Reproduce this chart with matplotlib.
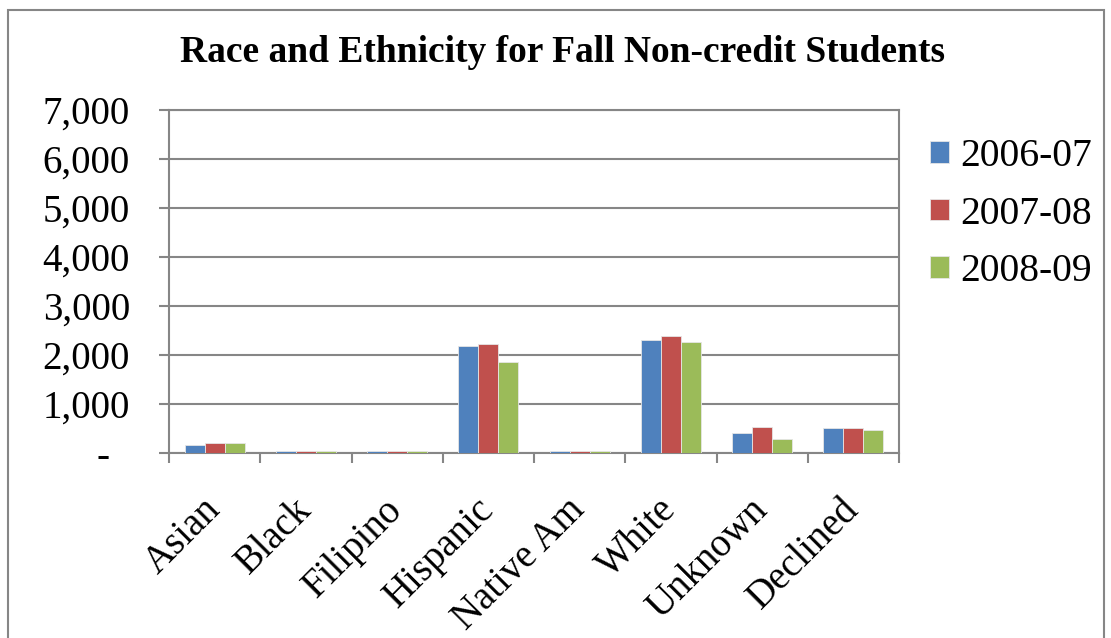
import matplotlib
matplotlib.use("Agg")
import matplotlib.pyplot as plt
import numpy as np
from matplotlib.patches import Rectangle

categories = ["Asian", "Black", "Filipino", "Hispanic", "Native Am", "White", "Unknown", "Declined"]
series_names = ["2006-07", "2007-08", "2008-09"]
v2006 = [165, 40, 40, 2185, 35, 2305, 405, 505]
v2007 = [205, 40, 40, 2225, 35, 2390, 530, 505]
v2008 = [205, 40, 40, 1855, 35, 2260, 290, 460]
colors = ["#4F81BD", "#C0504D", "#9BBB59"]
yticks = [0, 1000, 2000, 3000, 4000, 5000, 6000, 7000]
ytick_labels = ["-  ", "1,000", "2,000", "3,000", "4,000", "5,000", "6,000", "7,000"]

W, H = 1111, 638
fig = plt.figure(figsize=(W / 100, H / 100), dpi=100)
plt.rcParams["font.family"] = ["Liberation Serif", "DejaVu Serif"]

# outer chart border
fig.patches.append(Rectangle((8 / W, -0.1), (1104 - 8) / W, 1 - 10 / H + 0.1,
                             transform=fig.transFigure, fill=False,
                             edgecolor="#868686", linewidth=1.5))

ax = fig.add_axes([169 / W, 1 - 453 / H, (899 - 169) / W, (453 - 110) / H])
grid_c = "#868686"
x = np.arange(len(categories))
bw = 0.22
for i, (vals, name) in enumerate(zip([v2006, v2007, v2008], series_names)):
    ax.bar(x + (i - 1) * bw, vals, width=bw, color=colors[i], label=name,
           edgecolor="#E6E6E6", linewidth=0.6, zorder=3)

ax.set_xlim(-0.5, len(categories) - 0.5)
ax.set_ylim(0, 7000)
ax.set_yticks(yticks)
ax.set_yticklabels(ytick_labels, fontsize=28)
ax.yaxis.grid(True, color=grid_c, linewidth=1.5, zorder=0)
ax.set_axisbelow(True)

ax.set_xticks(np.arange(-0.5, len(categories) + 0.5, 1.0))
ax.set_xticklabels([])
ax.set_xticks(x, minor=True)
ax.set_xticklabels(categories, minor=True, fontsize=28, rotation=45,
                   ha="right", va="center", rotation_mode="anchor")
ax.tick_params(axis="x", which="minor", length=0, pad=37)
ax.tick_params(axis="x", which="major", length=7.2, width=1.5, color=grid_c)
ax.tick_params(axis="y", length=7.2, width=1.5, color=grid_c, pad=21)
for s in ax.spines.values():
    s.set_color(grid_c)
    s.set_linewidth(1.5)

fig.text(563 / W, 1 - 52 / H, "Race and Ethnicity for Fall Non-credit Students",
         ha="center", va="center", fontsize=27, fontweight="bold")

fig.legend(loc="upper left", bbox_to_anchor=(930 / W, 1 - 138 / H),
           fontsize=28.5, frameon=False, handlelength=0.47, handleheight=0.47,
           handletextpad=0.3, labelspacing=0.52, borderpad=0, borderaxespad=0)

fig.savefig("out.png", dpi=100)
